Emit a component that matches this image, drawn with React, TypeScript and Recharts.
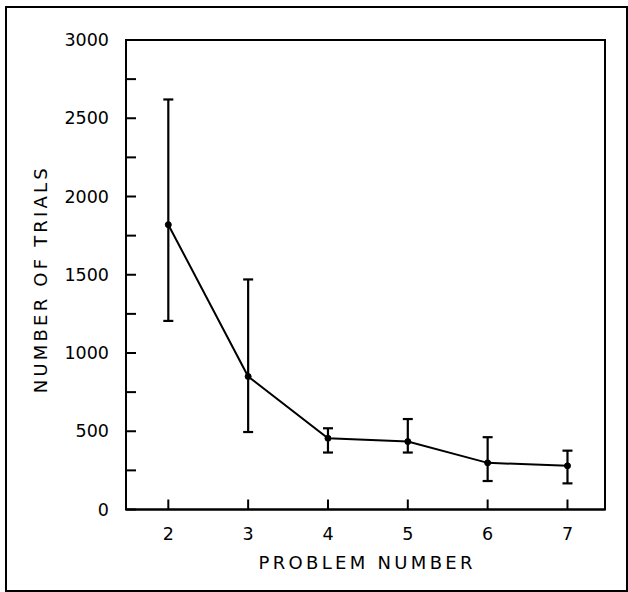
import React from 'react';
import { LineChart, Line, XAxis, YAxis, ErrorBar, ReferenceArea, Label } from 'recharts';

const problems = [2, 3, 4, 5, 6, 7];
const meanTrials = [1820, 850, 455, 434, 298, 279];
const upperTrials = [2620, 1470, 519, 578, 462, 376];
const lowerTrials = [1205, 495, 364, 364, 182, 167];
const yTicks = [0, 250, 500, 750, 1000, 1250, 1500, 1750, 2000, 2250, 2500, 2750, 3000];
const xTicks = [2, 3, 4, 5, 6, 7];
const xTitle = 'PROBLEM NUMBER';
const yTitle = 'NUMBER OF TRIALS';

const data = problems.map((p, i) => ({
  problem: p,
  trials: meanTrials[i],
  err: [meanTrials[i] - lowerTrials[i], upperTrials[i] - meanTrials[i]],
}));

const FONT = '"DejaVu Sans", "Open Sans", sans-serif';

export default function App() {
  return (
    <div style={{ position: 'absolute', left: 0, top: 0, width: 628, height: 592, background: '#fff' }}>
      <div
        style={{
          position: 'absolute',
          left: 5,
          top: 6,
          width: 623,
          height: 586,
          border: '2px solid #000',
          boxSizing: 'border-box',
        }}
      />
      <div style={{ position: 'absolute', left: 0, top: 0 }}>
        <LineChart width={628} height={592} data={data} margin={{ top: 40, right: 23, bottom: 0, left: 0 }}>
          <XAxis
            type="number"
            dataKey="problem"
            domain={[1.47, 7.47]}
            ticks={xTicks}
            allowDataOverflow
            height={82.5}
            tickSize={-10}
            tickMargin={28.5}
            axisLine={{ stroke: '#000', strokeWidth: 2 }}
            tickLine={{ stroke: '#000', strokeWidth: 2 }}
            tick={{ fill: '#000', fontSize: 17.5, fontFamily: FONT }}
          >
            <Label
              content={(props: any) => {
                const vb = props.viewBox;
                return (
                  <text
                    x={vb.x + vb.width / 2}
                    y={vb.y + 59}
                    textAnchor="middle"
                    fontSize={18}
                    fontFamily={FONT}
                    fill="#000"
                    textLength={214}
                    lengthAdjust="spacing"
                  >
                    {xTitle}
                  </text>
                );
              }}
            />
          </XAxis>
          <YAxis
            type="number"
            domain={[0, 3000]}
            ticks={yTicks}
            interval={0}
            width={126}
            tickSize={-10}
            tickMargin={27}
            tickFormatter={(v: number) => (v % 500 === 0 ? String(v) : '')}
            axisLine={{ stroke: '#000', strokeWidth: 2 }}
            tickLine={{ stroke: '#000', strokeWidth: 2 }}
            tick={{ fill: '#000', fontSize: 17.5, fontFamily: FONT }}
          >
            <Label
              content={(props: any) => {
                const vb = props.viewBox;
                const cx = vb.x + 47;
                const cy = vb.y + vb.height / 2 + 6;
                return (
                  <text
                    x={cx}
                    y={cy}
                    transform={`rotate(-90, ${cx}, ${cy})`}
                    textAnchor="middle"
                    fontSize={18}
                    fontFamily={FONT}
                    fill="#000"
                    textLength={225}
                    lengthAdjust="spacing"
                  >
                    {yTitle}
                  </text>
                );
              }}
            />
          </YAxis>
          <ReferenceArea x1={1.47} x2={7.47} y1={0} y2={3000} fill="none" stroke="#000" strokeWidth={2} ifOverflow="visible" />
          <Line
            type="linear"
            dataKey="trials"
            stroke="#000"
            strokeWidth={2}
            dot={{ r: 3, fill: '#000', stroke: '#000', strokeWidth: 1 }}
            isAnimationActive={false}
          >
            <ErrorBar dataKey="err" direction="y" width={5} stroke="#000" strokeWidth={2.2} isAnimationActive={false} />
          </Line>
        </LineChart>
      </div>
    </div>
  );
}
